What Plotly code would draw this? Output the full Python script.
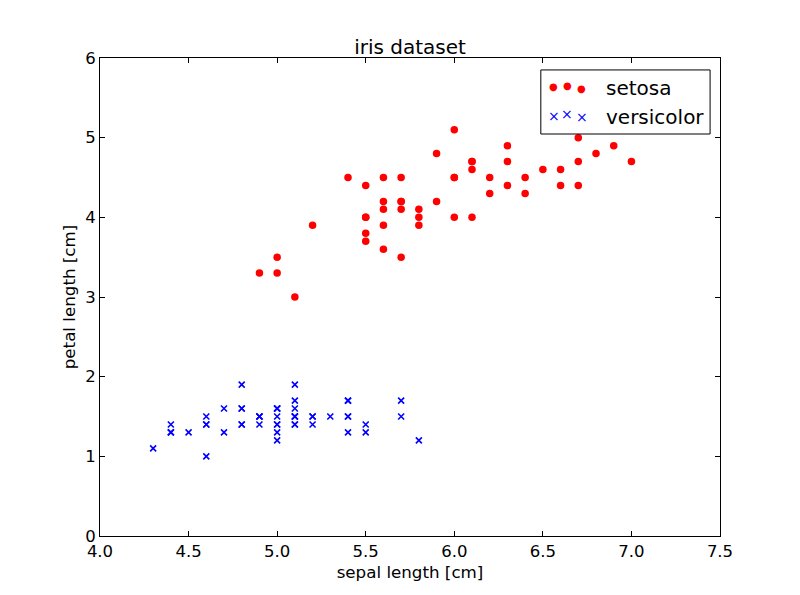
import plotly.graph_objects as go

# red points (labelled "setosa" in the reference)
red_sepal = [7.0, 6.4, 6.9, 5.5, 6.5, 5.7, 6.3, 4.9, 6.6, 5.2, 5.0, 5.9, 6.0, 6.1, 5.6, 6.7, 5.6, 5.8, 6.2, 5.6,
             5.9, 6.1, 6.3, 6.1, 6.4, 6.6, 6.8, 6.7, 6.0, 5.7, 5.5, 5.5, 5.8, 6.0, 5.4, 6.0, 6.7, 6.3, 5.6, 5.5,
             5.5, 6.1, 5.8, 5.0, 5.6, 5.7, 5.7, 6.2, 5.1, 5.7]
red_petal = [4.7, 4.5, 4.9, 4.0, 4.6, 4.5, 4.7, 3.3, 4.6, 3.9, 3.5, 4.2, 4.0, 4.7, 3.6, 4.4, 4.5, 4.1, 4.5, 3.9,
             4.8, 4.0, 4.9, 4.7, 4.3, 4.4, 4.8, 5.0, 4.5, 3.5, 3.8, 3.7, 3.9, 5.1, 4.5, 4.5, 4.7, 4.4, 4.1, 4.0,
             4.4, 4.6, 4.0, 3.3, 4.2, 4.2, 4.2, 4.3, 3.0, 4.1]
# blue crosses (labelled "versicolor" in the reference)
blue_sepal = [5.1, 4.9, 4.7, 4.6, 5.0, 5.4, 4.6, 5.0, 4.4, 4.9, 5.4, 4.8, 4.8, 4.3, 5.8, 5.7, 5.4, 5.1, 5.7, 5.1,
              5.4, 5.1, 4.6, 5.1, 4.8, 5.0, 5.0, 5.2, 5.2, 4.7, 4.8, 5.4, 5.2, 5.5, 4.9, 5.0, 5.5, 4.9, 4.4, 5.1,
              5.0, 4.5, 4.4, 5.0, 5.1, 4.8, 5.1, 4.6, 5.3, 5.0]
blue_petal = [1.4, 1.4, 1.3, 1.5, 1.4, 1.7, 1.4, 1.5, 1.4, 1.5, 1.5, 1.6, 1.4, 1.1, 1.2, 1.5, 1.3, 1.4, 1.7, 1.5,
              1.7, 1.5, 1.0, 1.7, 1.9, 1.6, 1.6, 1.5, 1.4, 1.6, 1.6, 1.5, 1.5, 1.4, 1.5, 1.2, 1.3, 1.5, 1.3, 1.5,
              1.3, 1.3, 1.3, 1.6, 1.9, 1.4, 1.6, 1.4, 1.5, 1.4]

series_names = ["setosa", "versicolor"]
x_ticks = [4.0, 4.5, 5.0, 5.5, 6.0, 6.5, 7.0, 7.5]
x_tick_labels = ["4.0", "4.5", "5.0", "5.5", "6.0", "6.5", "7.0", "7.5"]
y_ticks = [0, 1, 2, 3, 4, 5, 6]

FONT = "DejaVu Sans"
TICK_SIZE = 16.5
LABEL_SIZE = 16.7

fig = go.Figure()
fig.add_trace(go.Scatter(x=red_sepal, y=red_petal, mode="markers", name=series_names[0], showlegend=False,
                         marker=dict(color="red", size=7.5, symbol="circle", line=dict(width=0))))
fig.add_trace(go.Scatter(x=blue_sepal, y=blue_petal, mode="markers", name=series_names[1], showlegend=False,
                         marker=dict(color="blue", size=6, symbol="x-thin", line=dict(width=1.6, color="blue"))))

axis_common = dict(showgrid=False, zeroline=False, showline=True, linecolor="black", linewidth=1,
                   mirror="allticks", ticks="inside", ticklen=5, tickcolor="black",
                   tickfont=dict(size=TICK_SIZE, family=FONT, color="black"))

fig.update_xaxes(range=[4.0, 7.5], tickvals=x_ticks, ticktext=x_tick_labels,
                 title=dict(text="sepal length [cm]", font=dict(size=LABEL_SIZE, family=FONT, color="black"),
                            standoff=6),
                 **axis_common)
fig.update_yaxes(range=[0, 6], tickvals=y_ticks,
                 title=dict(text="petal length [cm]", font=dict(size=LABEL_SIZE, family=FONT, color="black"),
                            standoff=5),
                 **axis_common)

# Legend drawn in matplotlib style (three sample markers per entry), placed in axes-fraction coordinates
fig.add_shape(type="rect", xref="x domain", yref="y domain", x0=0.711, x1=0.984, y0=0.841, y1=0.975,
              line=dict(color="black", width=1), fillcolor="white", layer="above")
legend_rows = [
    (series_names[0], "red", "●", 10, 0.9395, [0.0, 0.004, -0.003]),
    (series_names[1], "blue", "×", 14, 0.879, [0.0, 0.004, -0.003]),
]
sample_x = [0.732, 0.754, 0.777]
for name, color, glyph, gsize, yrow, yoffs in legend_rows:
    for sx, dy in zip(sample_x, yoffs):
        fig.add_annotation(xref="x domain", yref="y domain", x=sx, y=yrow + dy, text=glyph, showarrow=False,
                           xanchor="center", yanchor="middle",
                           font=dict(size=gsize, family=FONT, color=color))
    fig.add_annotation(xref="x domain", yref="y domain", x=0.813, y=yrow - 0.002, text=name, showarrow=False,
                       xanchor="left", yanchor="middle", font=dict(size=20, family=FONT, color="black"))

fig.update_layout(
    width=800, height=595,
    margin=dict(l=92, r=88, t=50, b=67),
    paper_bgcolor="white", plot_bgcolor="white",
    font=dict(family=FONT, size=16, color="black"),
    title=dict(text="iris dataset", x=(410 - 8) / 800, xanchor="center", y=1 - (47 - 8) / 595, yanchor="middle",
               font=dict(size=20, family=FONT, color="black")),
    showlegend=False,
)

fig.write_html("out.html")
